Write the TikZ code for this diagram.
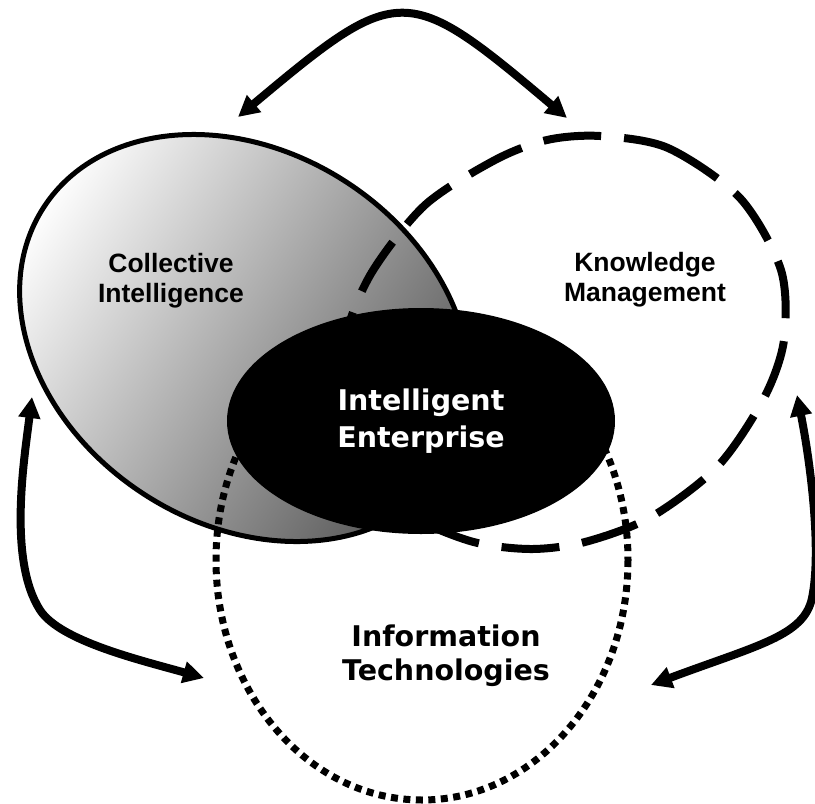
\documentclass[tikz,border=0pt]{standalone}
\usepackage{fontspec}
\usetikzlibrary{arrows.meta,shapes.geometric}
\newfontfamily\arialfont{Liberation Sans}
\newfontfamily\verdanafont{DejaVu Sans}

\begin{document}
\begin{tikzpicture}[x=1pt,y=1pt,yscale=-1,
    link/.style={line width=8pt,{Triangle[length=21pt,width=21pt]}-{Triangle[length=21pt,width=21pt]}},
    label/.style={inner sep=0pt,align=center,font=\arialfont\bfseries\fontsize{26.5}{30.3}\selectfont},
    vlabel/.style={inner sep=0pt,align=center,font=\verdanafont\bfseries\fontsize{28.5}{34}\selectfont}]
\useasboundingbox (0,0) rectangle (815,804);

% arrow ends
\coordinate (ci-top) at (238,117);
\coordinate (km-top) at (567,118);
\coordinate (ci-left) at (32,397);
\coordinate (it-left) at (204,678);
\coordinate (km-right) at (797,395);
\coordinate (it-right) at (651,685);

%Curve Lines
\draw [link] (ci-top) .. controls (399,-18) and (406,-18) .. (km-top) ;
\draw [link] (ci-left) .. controls (24,460) and (8,560) .. (40,610) .. controls (60,641) and (140,660) .. (it-left) ;
\draw [link] (km-right) .. controls (810,460) and (822,550) .. (812,598) .. controls (804,636) and (758,645) .. (it-right) ;

%Shape: Ellipse (collective intelligence)
\draw [line width=5pt,top color=white,bottom color=black!68,shading angle=57,rotate around={33:(245,338)}] (245,338) ellipse [x radius=240, y radius=186] ;
%Shape: Ellipse (knowledge management)
\draw [line width=8pt,dash pattern=on 58pt off 23pt] plot [smooth cycle] coordinates {(600,136) (668,148) (740,198) (781,270) (784,340) (764,398) (718,466) (651,517) (585,542) (530,549) (470,541) (405,512) (362,462) (343,400) (346,335) (372,272) (425,205) (495,160) (547,140)} ;
%Shape: Ellipse (information technologies)
\draw [line width=7pt,dash pattern=on 7pt off 5.5pt] (422,560) ellipse [x radius=206, y radius=240] ;

%Shape: Ellipse (intelligent enterprise)
\node [ellipse,fill=black,inner sep=0pt,minimum width=388pt,minimum height=226pt,text=white,
       font=\verdanafont\bfseries\fontsize{28.5}{36.6}\selectfont,align=center] (ie) at (421,421) {Intelligent\\Enterprise};

% Text Node
\node [label] (ci) at (171,281) {Collective\\Intelligence};
% Text Node
\node [label] (km) at (645,280) {Knowledge\\Management};
% Text Node
\node [vlabel] (it) at (446,656) {Information\\Technologies};
\end{tikzpicture}
\end{document}
